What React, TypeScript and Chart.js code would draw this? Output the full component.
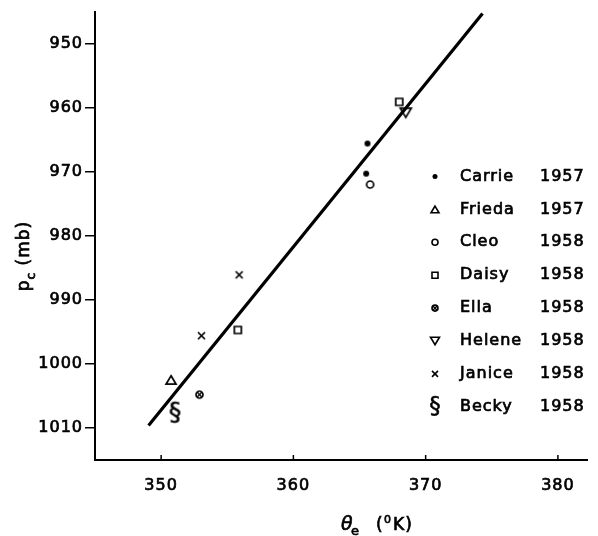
import React, { useEffect, useRef } from 'react';
import { Chart, registerables } from 'chart.js';
Chart.register(...registerables);

// ---- data ----
const storms = ['Carrie', 'Frieda', 'Cleo', 'Daisy', 'Ella', 'Helene', 'Janice', 'Becky'];
const years = ['1957', '1957', '1958', '1958', '1958', '1958', '1958', '1958'];
const markerKinds = ['dot', 'triangle', 'circle', 'square', 'circleCross', 'triangleDown', 'cross', 'section'];
const thetaE: number[][] = [[365.6, 365.5], [350.75], [365.8], [368.0, 355.8], [352.9], [368.5], [355.9, 353.05], [351.05]];
const pressure: number[][] = [[965.6, 970.3], [1002.5], [972.0], [959.1, 994.7], [1004.8], [960.8], [986.1, 995.6], [1007.7]];
const fitTheta = [349.05, 374.3];
const fitPressure = [1009.6, 945.3];
const xTicks = [350, 360, 370, 380];
const yTicks = [950, 960, 970, 980, 990, 1000, 1010];

// ---- styles ----
const FONT = '"DejaVu Sans", sans-serif';
const TEXT_STROKE = 0.7;
const dataSize: Record<string, number> = { dot: 6, triangle: 10, circle: 7, square: 7, circleCross: 7, triangleDown: 11, cross: 7, section: 25 };
const legendSize: Record<string, number> = { dot: 5, triangle: 8, circle: 6, square: 6, circleCross: 6, triangleDown: 9, cross: 6, section: 23 };

function drawMarker(ctx: CanvasRenderingContext2D, kind: string, cx: number, cy: number, s: number, lw: number) {
  ctx.save();
  ctx.strokeStyle = '#000';
  ctx.fillStyle = '#000';
  ctx.lineWidth = lw;
  ctx.letterSpacing = '0px';
  const h = s / 2;
  ctx.beginPath();
  switch (kind) {
    case 'dot':
      ctx.arc(cx, cy, h, 0, Math.PI * 2);
      ctx.fill();
      break;
    case 'circle':
      ctx.arc(cx, cy, h, 0, Math.PI * 2);
      ctx.stroke();
      break;
    case 'square':
      ctx.rect(cx - h, cy - h, s, s);
      ctx.stroke();
      break;
    case 'triangle': {
      const th = s * 0.42;
      ctx.moveTo(cx, cy - th);
      ctx.lineTo(cx + h, cy + th);
      ctx.lineTo(cx - h, cy + th);
      ctx.closePath();
      ctx.stroke();
      break;
    }
    case 'triangleDown': {
      const th = s * 0.42;
      ctx.moveTo(cx, cy + th);
      ctx.lineTo(cx + h, cy - th);
      ctx.lineTo(cx - h, cy - th);
      ctx.closePath();
      ctx.stroke();
      break;
    }
    case 'circleCross': {
      ctx.arc(cx, cy, h, 0, Math.PI * 2);
      ctx.stroke();
      const d = h * 0.7;
      ctx.beginPath();
      ctx.moveTo(cx - d, cy - d);
      ctx.lineTo(cx + d, cy + d);
      ctx.moveTo(cx + d, cy - d);
      ctx.lineTo(cx - d, cy + d);
      ctx.lineWidth = lw * 0.8;
      ctx.stroke();
      break;
    }
    case 'cross':
      ctx.moveTo(cx - h, cy - h);
      ctx.lineTo(cx + h, cy + h);
      ctx.moveTo(cx + h, cy - h);
      ctx.lineTo(cx - h, cy + h);
      ctx.stroke();
      break;
    case 'section':
      ctx.font = `${s}px ${FONT}`;
      ctx.textAlign = 'center';
      ctx.textBaseline = 'middle';
      ctx.lineWidth = 0.5;
      ctx.fillText('\u00a7', cx, cy);
      ctx.strokeText('\u00a7', cx, cy);
      break;
  }
  ctx.restore();
}

function makeImage(kind: string, s: number, lw: number): HTMLCanvasElement {
  const c = document.createElement('canvas');
  const size = Math.ceil(s + lw * 2 + 4);
  c.width = size;
  c.height = size;
  const ctx = c.getContext('2d')!;
  drawMarker(ctx, kind, size / 2, size / 2, s, lw);
  return c;
}

function text(ctx: CanvasRenderingContext2D, t: string, x: number, y: number) {
  ctx.fillText(t, x, y);
  ctx.strokeText(t, x, y);
}

const decorPlugin = {
  id: 'decor',
  beforeDraw(chart: any) {
    chart.ctx.letterSpacing = '1px';
  },
  afterDraw(chart: any) {
    const ctx: CanvasRenderingContext2D = chart.ctx;
    const xs = chart.scales.x;
    const area = chart.chartArea;
    ctx.save();
    // inward x ticks
    ctx.strokeStyle = '#000';
    ctx.lineWidth = 1.5;
    xTicks.forEach((v) => {
      const px = xs.getPixelForValue(v);
      ctx.beginPath();
      ctx.moveTo(px, area.bottom);
      ctx.lineTo(px, area.bottom - 5);
      ctx.stroke();
    });
    // legend
    ctx.fillStyle = '#000';
    ctx.strokeStyle = '#000';
    ctx.lineWidth = TEXT_STROKE;
    ctx.font = `16px ${FONT}`;
    ctx.letterSpacing = '1px';
    ctx.textBaseline = 'middle';
    ctx.textAlign = 'left';
    storms.forEach((name, i) => {
      const y = 176.5 + i * 32.9;
      const kind = markerKinds[i];
      drawMarker(ctx, kind, 435, y, legendSize[kind], 1.6);
      text(ctx, name, 460, y);
      text(ctx, years[i], 540, y);
    });
    // y title
    ctx.save();
    ctx.translate(29, 256);
    ctx.rotate(-Math.PI / 2);
    ctx.textBaseline = 'alphabetic';
    ctx.font = `17px ${FONT}`;
    const wp = ctx.measureText('p').width;
    const wm = ctx.measureText(' (mb)').width;
    ctx.font = `12px ${FONT}`;
    const wc = ctx.measureText('c').width;
    const start = -(wp + wc + wm) / 2;
    ctx.font = `17px ${FONT}`;
    text(ctx, 'p', start, 0);
    ctx.font = `12px ${FONT}`;
    text(ctx, 'c', start + wp, 6);
    ctx.font = `17px ${FONT}`;
    text(ctx, ' (mb)', start + wp + wc, 0);
    ctx.restore();
    // x title
    ctx.textBaseline = 'alphabetic';
    ctx.font = `italic 19px ${FONT}`;
    text(ctx, '\u03b8', 341, 530);
    ctx.font = `13px ${FONT}`;
    text(ctx, 'e', 351, 535);
    ctx.font = `17px ${FONT}`;
    text(ctx, '(', 376, 530);
    ctx.font = `11px ${FONT}`;
    text(ctx, '0', 384, 523);
    ctx.font = `17px ${FONT}`;
    text(ctx, 'K)', 393, 530);
    ctx.restore();
  },
};

export default function App() {
  const ref = useRef<HTMLCanvasElement>(null);
  useEffect(() => {
    const canvas = ref.current!;
    const datasets: any[] = storms.map((name, i) => ({
      label: name,
      data: thetaE[i].map((x, j) => ({ x, y: pressure[i][j] })),
      pointStyle: makeImage(markerKinds[i], dataSize[markerKinds[i]], 1.7),
      pointRadius: 6,
      showLine: false,
    }));
    datasets.push({
      label: 'fit',
      data: fitTheta.map((x, j) => ({ x, y: fitPressure[j] })),
      showLine: true,
      borderColor: '#000',
      borderWidth: 3.2,
      pointRadius: 0,
      fill: false,
      clip: false,
    });
    const tickFont = { family: FONT, size: 16 };
    const chart = new Chart(canvas, {
      type: 'scatter',
      data: { datasets },
      options: {
        animation: false,
        responsive: false,
        layout: { padding: { top: 10, right: 11, left: 0, bottom: 0 } },
        plugins: { legend: { display: false }, tooltip: { enabled: false } },
        scales: {
          x: {
            type: 'linear',
            min: 345,
            max: 382.2,
            afterBuildTicks: (s: any) => { s.ticks = xTicks.map((v) => ({ value: v })); },
            afterFit: (s: any) => { s.height = 76; },
            grid: { display: true, drawOnChartArea: false, drawTicks: false, color: '#000' },
            border: { display: true, color: '#000', width: 2 },
            ticks: {
              color: '#000', padding: 16, font: tickFont, maxRotation: 0,
              textStrokeColor: '#000', textStrokeWidth: TEXT_STROKE,
              callback: (v: any) => String(v),
            },
          },
          y: {
            type: 'linear',
            reverse: true,
            min: 945,
            max: 1015,
            afterBuildTicks: (s: any) => { s.ticks = yTicks.map((v) => ({ value: v })); },
            afterFit: (s: any) => { s.width = 95; },
            grid: { display: true, drawOnChartArea: false, drawTicks: true, tickLength: 10, color: '#000', lineWidth: 1.5 },
            border: { display: true, color: '#000', width: 2 },
            ticks: {
              color: '#000', padding: 2, font: tickFont,
              textStrokeColor: '#000', textStrokeWidth: TEXT_STROKE,
              callback: (v: any) => String(v),
            },
          },
        },
      },
      plugins: [decorPlugin],
    });
    return () => chart.destroy();
  }, []);
  return (
    <div style={{ position: 'absolute', left: 0, top: 0, width: 598, height: 536, background: '#fff' }}>
      <canvas ref={ref} width={598} height={536} style={{ display: 'block', width: 598, height: 536 }} />
    </div>
  );
}
